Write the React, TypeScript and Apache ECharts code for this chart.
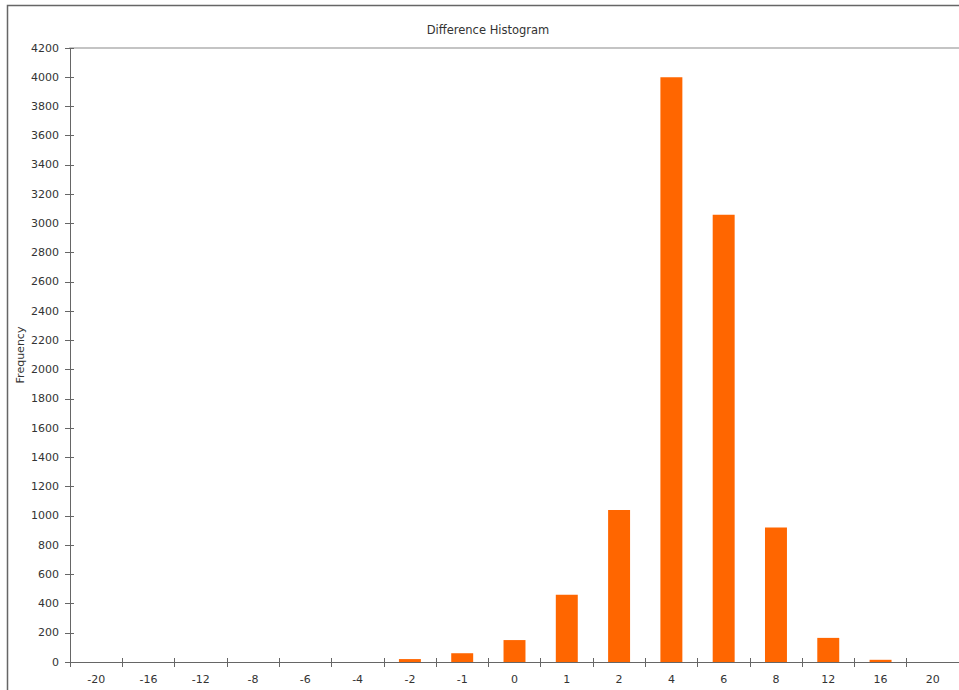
import React, { useEffect, useRef } from "react";
import * as echarts from "echarts";

const categories = ["-20", "-16", "-12", "-8", "-6", "-4", "-2", "-1", "0", "1", "2", "4", "6", "8", "12", "16", "20"];
const frequency = [0, 0, 0, 0, 0, 0, 20, 60, 150, 460, 1040, 4000, 3060, 920, 165, 15, 0];
const chartTitle = "Difference Histogram";
const yName = "Frequency";

const FONT = "DejaVu Sans";
const TEXT = "#333333";
const AXIS = "#666666";

export default function App() {
  const ref = useRef<HTMLDivElement>(null);
  useEffect(() => {
    if (!ref.current) return;
    const chart = echarts.init(ref.current, null, { renderer: "svg" });
    chart.setOption({
      animation: false,
      backgroundColor: "#ffffff",
      textStyle: { fontFamily: FONT },
      grid: { left: 70, right: 0, top: 48, bottom: 28, containLabel: false },
      graphic: [
        {
          type: "rect",
          shape: { x: 7.5, y: 5.5, width: 1000, height: 1000 },
          style: { fill: "none", stroke: "#666666", lineWidth: 1.5 },
          silent: true,
          z: 0,
        },
        {
          type: "text",
          x: 488,
          y: 30,
          style: {
            text: chartTitle,
            fontFamily: FONT,
            fontSize: 11.5,
            fill: TEXT,
            textAlign: "center",
            textVerticalAlign: "middle",
          },
        },
      ],
      xAxis: [
        {
          type: "category",
          data: categories,
          position: "bottom",
          axisLine: { show: true, lineStyle: { color: AXIS, width: 1 } },
          axisTick: { show: true, length: 5, lineStyle: { color: AXIS } },
          axisLabel: { color: TEXT, fontSize: 11, fontFamily: FONT, margin: 12, interval: 0 },
          splitLine: { show: false },
        },
        {
          type: "category",
          data: categories,
          position: "bottom",
          axisLine: { show: false },
          axisTick: { show: true, inside: true, length: 4, lineStyle: { color: AXIS } },
          axisLabel: { show: false },
          splitLine: { show: false },
        },
        {
          type: "category",
          data: categories,
          position: "top",
          axisLine: { show: true, lineStyle: { color: "#c4c4c4", width: 2 } },
          axisTick: { show: false },
          axisLabel: { show: false },
          splitLine: { show: false },
        },
      ],
      yAxis: [
        {
          type: "value",
          min: 0,
          max: 4200,
          interval: 200,
          position: "left",
          name: yName,
          nameLocation: "middle",
          nameRotate: 90,
          nameGap: 44,
          nameMoveOverlap: false,
          nameTextStyle: { color: TEXT, fontSize: 11, fontFamily: FONT },
          axisLine: { show: true, lineStyle: { color: AXIS, width: 1 } },
          axisTick: { show: true, length: 5, lineStyle: { color: AXIS } },
          axisLabel: {
            color: TEXT,
            fontSize: 11,
            fontFamily: FONT,
            margin: 11,
            formatter: (v: number) => String(v),
          },
          splitLine: { show: false },
        },
        {
          type: "value",
          min: 0,
          max: 4200,
          interval: 200,
          position: "left",
          axisLine: { show: false },
          axisTick: { show: true, inside: true, length: 4, lineStyle: { color: AXIS } },
          axisLabel: { show: false },
          splitLine: { show: false },
        },
      ],
      series: [
        {
          type: "bar",
          data: frequency,
          xAxisIndex: 0,
          yAxisIndex: 0,
          barWidth: "42%",
          itemStyle: { color: "#ff6600" },
        },
      ],
    });
    return () => chart.dispose();
  }, []);
  return (
    <div
      ref={ref}
      style={{ position: "fixed", left: 0, top: 0, width: 959, height: 690 }}
    />
  );
}
